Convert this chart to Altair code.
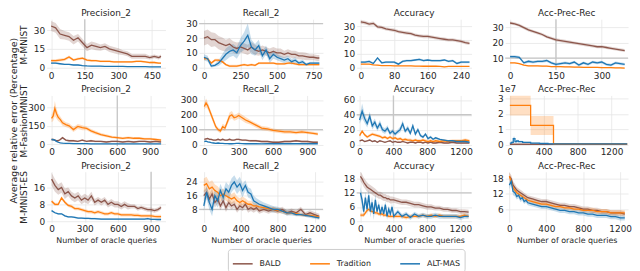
import altair as alt
import pandas as pd

FONT = "DejaVu Sans"
SERIES = ["BALD", "Tradition", "ALT-MAS"]
COLORS = ["#8c564b", "#ff7f0e", "#1f77b4"]
ROW_LABELS = ["M-MNIST", "M-FashionMNIST", "M-MNIST-ES"]
COL_TITLES = ["Precision_2", "Recall_2", "Accuracy", "Acc-Prec-Rec"]
Y_LABEL = "Average relative error (Percentage)"
X_LABEL = "Number of oracle queries"
SCALE_NOTE = "1e7"

# ---------------- Row 1: M-MNIST ----------------
P1_X = [0, 20, 40, 60, 80, 100, 120, 140, 160, 180, 200, 220, 240, 260, 280, 300, 320, 340, 360, 380, 400, 420, 440, 460, 480, 490]
P1_BALD = [33.5, 32, 27, 26, 25, 22, 24, 20, 16, 18, 17, 16, 17, 15, 14, 13, 12, 11, 9, 9, 9, 9, 8, 9, 8, 9]
P1_BALD_S = [4, 4, 4, 3.5, 3.5, 3.5, 3, 3, 3, 3, 3, 2.5, 2.5, 2.5, 2.5, 2.5, 2, 2, 2, 2, 2, 2, 1.5, 1.5, 1.5, 1.5]
P1_TRAD = [5.5, 5.5, 6, 6.5, 8.5, 6, 7, 7.5, 6, 5.5, 5.5, 5, 5, 5, 4.5, 4.5, 4.5, 4.5, 4.5, 5, 5, 4.5, 4, 4, 3.5, 3.5]
P1_TRAD_S = [1.2, 1.2, 1.2, 1.2, 1.2, 1, 1, 1, 1, 1, 0.8, 0.8, 0.8, 0.8, 0.8, 0.8, 0.8, 0.8, 0.8, 0.8, 0.8, 0.8, 0.8, 0.8, 0.8, 0.8]
P1_ALT = [3.5, 3.5, 3, 2.5, 2.5, 2, 2, 1.5, 1.2, 1, 1, 1, 0.9, 0.9, 0.8, 0.8, 0.8, 0.7, 0.7, 0.6, 0.6, 0.6, 0.5, 0.5, 0.5, 0.5]
P1_ALT_S = [0.8, 0.8, 0.7, 0.6, 0.6, 0.5, 0.5, 0.5, 0.4, 0.4, 0.4, 0.4, 0.3, 0.3, 0.3, 0.3, 0.3, 0.3, 0.3, 0.3, 0.3, 0.3, 0.3, 0.3, 0.3, 0.3]

P2_X = [0, 25, 50, 75, 100, 125, 150, 175, 200, 225, 250, 275, 300, 325, 350, 375, 400, 425, 450, 475, 500, 525, 550, 575, 600, 625, 650, 675, 700, 725, 750, 775, 790]
P2_BALD = [20, 21, 19, 19, 17, 16, 15, 16, 14, 13, 14, 13, 12, 14, 12, 11, 12, 11, 10, 11, 10, 10, 9, 10, 9, 9, 8, 8, 7.5, 7, 7, 6.5, 6.5]
P2_BALD_S = [5, 5, 5, 4.5, 4.5, 4.5, 4, 4, 4, 4, 3.5, 3.5, 3.5, 3.5, 3.5, 3, 3, 3, 3, 3, 3, 3, 2.5, 2.5, 2.5, 2.5, 2.5, 2.5, 2.5, 2, 2, 2, 2]
P2_TRAD = [6, 6, 3, 5, 5, 4, 2, 1, 1, 1, 1.5, 2, 1.5, 2, 1.5, 3, 3, 3, 3, 3, 2.5, 2.5, 2.5, 3, 3, 2.5, 2, 2, 2, 2, 2, 2, 2]
P2_TRAD_S = [1, 1, 1, 1, 1, 1, 0.8, 0.8, 0.8, 0.8, 0.8, 0.8, 0.8, 0.8, 0.8, 0.8, 0.8, 0.8, 0.8, 0.8, 0.8, 0.8, 0.8, 0.8, 0.8, 0.8, 0.8, 0.8, 0.8, 0.8, 0.8, 0.8, 0.8]
P2_ALT = [7, 6, 1, 1.5, 3, 6, 9, 11, 12, 10, 15, 18, 22, 14, 12, 15, 8, 12, 6, 9, 7, 6, 5, 6, 4, 5, 3, 4, 2, 3, 3, 3, 3]
P2_ALT_S = [2, 2, 1, 1, 2, 3, 4, 4, 4, 4, 5, 6, 8, 5, 4, 4, 3, 3, 3, 3, 2, 2, 2, 2, 2, 2, 1.5, 1.5, 1, 1, 1, 1, 1]

P3_X = [0, 10, 20, 30, 40, 50, 60, 70, 80, 90, 100, 110, 120, 130, 140, 150, 160, 170, 180, 190, 200, 210, 220, 230, 240, 250, 260]
P3_BALD = [33, 32.5, 31.5, 32, 29.5, 29, 28, 27.5, 27, 26, 25.5, 25, 24.5, 23.5, 23, 22.5, 22.5, 22, 21.5, 21, 20.5, 20, 20, 19.5, 19, 18, 17.5]
P3_BALD_S = [1.3, 1.3, 1.3, 1.3, 1.3, 1.2, 1.2, 1.2, 1.2, 1.2, 1.2, 1.2, 1.2, 1.2, 1.2, 1.2, 1.2, 1.2, 1.2, 1.2, 1.2, 1.2, 1.2, 1.2, 1.2, 1.2, 1.2]
P3_TRAD = [2.5, 2.5, 2.5, 2, 1.8, 1.5, 1.5, 1.5, 1.3, 1.3, 1.2, 1.2, 1.2, 1.1, 1.1, 1, 1, 1, 1, 0.9, 0.6, 0.9, 0.9, 0.9, 0.9, 0.9, 0.9]
P3_TRAD_S = [0.3, 0.3, 0.3, 0.3, 0.3, 0.3, 0.3, 0.3, 0.3, 0.3, 0.3, 0.3, 0.3, 0.3, 0.3, 0.3, 0.3, 0.3, 0.3, 0.3, 0.3, 0.3, 0.3, 0.3, 0.3, 0.3, 0.3]
P3_ALT = [4, 4, 4.5, 3, 7, 3.5, 4, 4, 4, 2.5, 4.5, 5, 5, 5.5, 6, 5, 5.5, 5, 5, 5, 5.5, 4.5, 5, 3, 4, 4, 4]
P3_ALT_S = [0.8, 0.8, 0.8, 0.8, 0.8, 0.8, 0.8, 0.8, 0.8, 0.8, 0.8, 0.8, 0.8, 0.8, 0.8, 0.8, 0.8, 0.8, 0.8, 0.8, 0.8, 0.8, 0.8, 0.8, 0.8, 0.8, 0.8]

P4_X = [0, 15, 30, 45, 60, 75, 90, 105, 120, 135, 150, 165, 180, 195, 210, 225, 240, 255, 270, 285, 300, 315, 330, 345, 360, 375]
P4_BALD = [33, 32.5, 31.5, 30, 28.5, 27.5, 26.5, 25.5, 24, 23, 22, 21.5, 21, 20.5, 20, 19.5, 19, 18.5, 18, 17.5, 17.5, 17, 16.5, 16, 15.5, 15]
P4_BALD_S = [1, 1, 1, 1, 1, 1, 1, 1, 1, 1, 1, 1, 1, 1, 1, 1, 1, 1, 1, 1, 1, 1, 1, 1, 1, 1]
P4_TRAD = [7, 7, 6.5, 5.5, 5, 5, 5, 4.8, 4.8, 4.5, 4.5, 4.5, 4.3, 4.3, 4.2, 4.2, 4, 4, 4, 4, 3.8, 3.8, 3.8, 3.7, 3.7, 3.5]
P4_TRAD_S = [0.4, 0.4, 0.4, 0.4, 0.4, 0.4, 0.4, 0.4, 0.4, 0.4, 0.4, 0.4, 0.4, 0.4, 0.4, 0.4, 0.4, 0.4, 0.4, 0.4, 0.4, 0.4, 0.4, 0.4, 0.4, 0.4]
P4_ALT = [11, 11, 10.5, 7, 8, 7.5, 8, 8, 8.5, 7, 6, 6.5, 7, 6.5, 7.5, 5.5, 7, 6, 7.5, 7, 7.5, 6, 5.5, 7, 6.5, 6]
P4_ALT_S = [0.9, 0.9, 0.9, 0.9, 0.9, 0.9, 0.9, 0.9, 0.9, 0.9, 0.9, 0.9, 0.9, 0.9, 0.9, 0.9, 0.9, 0.9, 0.9, 0.9, 0.9, 0.9, 0.9, 0.9, 0.9, 0.9]

# ---------------- Row 2: M-FashionMNIST ----------------
P5_X = [0, 15, 30, 45, 60, 80, 100, 130, 160, 200, 240, 280, 320, 360, 400, 450, 500, 550, 600, 650, 700, 750, 800, 850, 900, 950, 1000]
P5_BALD = [40, 40, 35, 30, 30, 40, 55, 35, 30, 30, 25, 35, 25, 30, 25, 25, 20, 25, 25, 20, 25, 20, 25, 25, 20, 25, 20]
P5_BALD_S = [8, 8, 8, 8, 8, 8, 8, 8, 8, 8, 8, 8, 8, 8, 8, 8, 8, 8, 8, 8, 8, 8, 8, 8, 8, 8, 8]
P5_TRAD = [210, 230, 290, 250, 220, 200, 175, 160, 150, 120, 145, 135, 130, 110, 95, 80, 70, 60, 55, 50, 55, 50, 50, 45, 45, 40, 35]
P5_TRAD_S = [30, 40, 60, 40, 30, 25, 25, 20, 20, 20, 20, 20, 15, 15, 15, 12, 12, 10, 10, 10, 10, 10, 10, 10, 10, 10, 10]
P5_ALT = [40, 38, 35, 25, 18, 12, 10, 8, 8, 7, 6, 6, 6, 5, 5, 5, 5, 5, 5, 5, 5, 5, 5, 5, 5, 5, 5]
P5_ALT_S = [3, 3, 3, 3, 3, 3, 3, 3, 3, 3, 3, 3, 3, 3, 3, 3, 3, 3, 3, 3, 3, 3, 3, 3, 3, 3, 3]

P6_X = [0, 15, 30, 45, 60, 80, 100, 120, 140, 160, 180, 200, 220, 240, 260, 280, 300, 330, 360, 400, 450, 500, 550, 600, 650, 700, 750, 800, 850, 900, 950, 990]
P6_BALD = [35, 38, 40, 35, 35, 30, 30, 35, 30, 35, 30, 30, 35, 30, 30, 35, 35, 30, 30, 25, 25, 20, 20, 15, 15, 20, 20, 25, 20, 20, 15, 15]
P6_BALD_S = [6, 6, 6, 6, 6, 6, 6, 6, 6, 6, 6, 6, 6, 6, 6, 6, 6, 6, 6, 6, 6, 6, 6, 6, 6, 6, 6, 6, 6, 6, 6, 6]
P6_TRAD = [255, 280, 260, 230, 200, 160, 120, 100, 90, 120, 110, 150, 190, 200, 180, 185, 195, 180, 165, 150, 130, 110, 105, 95, 90, 85, 85, 80, 85, 80, 75, 70]
P6_TRAD_S = [20, 30, 25, 20, 20, 20, 15, 15, 15, 20, 20, 20, 25, 25, 20, 20, 20, 20, 20, 15, 15, 15, 15, 12, 12, 12, 12, 12, 12, 10, 10, 10]
P6_ALT = [20, 22, 18, 15, 12, 10, 8, 10, 8, 7, 6, 6, 5, 5, 6, 7, 8, 6, 5, 5, 5, 4, 5, 5, 5, 5, 5, 6, 5, 5, 5, 5]
P6_ALT_S = [3, 3, 3, 3, 3, 3, 3, 3, 3, 3, 3, 3, 3, 3, 3, 3, 3, 3, 3, 3, 3, 3, 3, 3, 3, 3, 3, 3, 3, 3, 3, 3]

P7_X = [0, 30, 60, 90, 120, 150, 180, 210, 240, 270, 300, 330, 360, 390, 420, 450, 480, 510, 540, 570, 600, 630, 660, 690, 720, 750, 780, 810, 840, 870, 900, 950, 1000, 1050, 1100, 1150, 1200, 1250, 1300]
P7_BALD = [5, 6, 4, 5, 6, 4, 5, 3, 5, 4, 3, 4, 5, 3, 4, 3, 3, 4, 3, 2, 3, 3, 2, 3, 3, 2, 3, 2, 3, 2, 2, 3, 2, 2, 3, 2, 2, 2, 2]
P7_BALD_S = [1, 1, 1, 1, 1, 1, 1, 1, 1, 1, 1, 1, 1, 1, 1, 1, 1, 1, 1, 1, 1, 1, 1, 1, 1, 1, 1, 1, 1, 1, 1, 1, 1, 1, 1, 1, 1, 1, 1]
P7_TRAD = [12, 18, 13, 10, 12, 14, 13, 12, 11, 9, 10, 8, 10, 8, 9, 7, 8, 6, 7, 6, 6, 5, 6, 5, 5, 6, 5, 4, 5, 4, 5, 4, 5, 4, 5, 5, 5, 6, 5]
P7_TRAD_S = [2, 2, 2, 2, 2, 2, 2, 2, 2, 2, 2, 2, 2, 2, 2, 2, 2, 2, 2, 2, 2, 2, 2, 2, 2, 2, 2, 2, 2, 2, 2, 2, 2, 2, 2, 2, 2, 2, 2]
P7_ALT = [33, 45, 35, 28, 38, 25, 30, 22, 28, 20, 18, 22, 15, 18, 14, 17, 20, 28, 18, 22, 15, 25, 14, 20, 12, 10, 14, 8, 10, 7, 9, 7, 6, 5, 5, 4, 4, 4, 3]
P7_ALT_S = [5, 10, 6, 5, 6, 5, 5, 4, 5, 4, 4, 4, 3, 3, 3, 3, 4, 5, 3, 4, 3, 4, 3, 3, 2, 2, 2, 2, 2, 1.5, 1.5, 1, 1, 1, 1, 1, 1, 1, 1]

P8_X = [0, 20, 40, 60, 80, 100, 150, 200, 245, 300, 350, 400, 450, 515, 600, 700, 800, 900, 1000, 1100, 1200, 1300, 1385]
P8_BALD = [0.03, 0.03, 0.03, 0.03, 0.03, 0.03, 0.03, 0.03, 0.03, 0.03, 0.03, 0.03, 0.03, 0.03, 0.03, 0.03, 0.03, 0.03, 0.03, 0.03, 0.03, 0.03, 0.03]
P8_BALD_S = [0.01, 0.01, 0.01, 0.01, 0.01, 0.01, 0.01, 0.01, 0.01, 0.01, 0.01, 0.01, 0.01, 0.01, 0.01, 0.01, 0.01, 0.01, 0.01, 0.01, 0.01, 0.01, 0.01]
P8_TRAD = [2.55, 2.55, 2.55, 2.55, 2.55, 2.55, 2.55, 2.55, 1.25, 1.25, 1.25, 1.25, 1.25, 0.05, 0.05, 0.05, 0.05, 0.05, 0.05, 0.05, 0.05, 0.05, 0.05]
P8_TRAD_S = [0.65, 0.65, 0.65, 0.65, 0.65, 0.65, 0.65, 0.65, 0.62, 0.62, 0.62, 0.62, 0.62, 0.01, 0.01, 0.01, 0.01, 0.01, 0.01, 0.01, 0.01, 0.01, 0.01]
P8_ALT = [0.1, 0.15, 0.4, 0.2, 0.25, 0.2, 0.15, 0.15, 0.1, 0.1, 0.08, 0.08, 0.06, 0.05, 0.05, 0.05, 0.05, 0.05, 0.05, 0.05, 0.05, 0.05, 0.05]
P8_ALT_S = [0.05, 0.08, 0.12, 0.08, 0.08, 0.06, 0.05, 0.05, 0.04, 0.04, 0.03, 0.03, 0.02, 0.02, 0.02, 0.02, 0.02, 0.02, 0.02, 0.02, 0.02, 0.02, 0.02]

# ---------------- Row 3: M-MNIST-ES ----------------
P9_X = [0, 30, 60, 90, 120, 150, 180, 210, 240, 270, 300, 330, 360, 390, 420, 450, 480, 510, 540, 570, 600, 630, 660, 690, 720, 750, 780, 810, 840, 870, 900, 930, 960, 990]
P9_BALD = [20, 17, 15, 16, 13, 14, 12, 11, 12, 10, 11, 10, 12, 9, 10, 9, 10, 8, 9, 8, 8, 7, 8, 7, 7, 7, 6, 6.5, 6, 5.5, 5.5, 5, 5.5, 6.5]
P9_BALD_S = [3, 3, 2.5, 2.5, 2.5, 2, 2, 2, 2, 2, 2, 2, 2, 1.5, 1.5, 1.5, 1.5, 1.5, 1.5, 1.5, 1.5, 1.5, 1.5, 1.5, 1, 1, 1, 1, 1, 1, 1, 1, 1, 1]
P9_TRAD = [9.5, 8, 8, 11, 9, 7.5, 7, 6, 6, 5.5, 5, 4.5, 4.5, 4, 4.5, 4, 3.5, 3.5, 4, 3.5, 3.5, 3, 3, 3, 3, 2.8, 2.8, 2.5, 2.5, 2.5, 2.5, 2.3, 2.2, 2.2]
P9_TRAD_S = [0.8, 0.8, 0.8, 0.8, 0.8, 0.8, 0.8, 0.8, 0.8, 0.8, 0.8, 0.8, 0.8, 0.8, 0.8, 0.8, 0.8, 0.8, 0.8, 0.8, 0.8, 0.8, 0.8, 0.8, 0.8, 0.8, 0.8, 0.8, 0.8, 0.8, 0.8, 0.8, 0.8, 0.8]
P9_ALT = [5, 4, 3.5, 3.5, 2.5, 2, 2, 1.8, 1.5, 1.5, 1.3, 1.3, 1.2, 1.2, 1.1, 1, 1, 1, 1, 1, 1, 1, 1, 1, 1, 1, 1, 1, 1, 1.2, 0.9, 0.9, 0.8, 0.8]
P9_ALT_S = [0.4, 0.4, 0.4, 0.4, 0.4, 0.4, 0.4, 0.4, 0.4, 0.4, 0.4, 0.4, 0.4, 0.4, 0.4, 0.4, 0.4, 0.4, 0.4, 0.4, 0.4, 0.4, 0.4, 0.4, 0.4, 0.4, 0.4, 0.4, 0.4, 0.4, 0.4, 0.4, 0.4, 0.4]

P10_X = [0, 30, 60, 90, 120, 150, 180, 210, 240, 270, 300, 330, 360, 390, 420, 450, 480, 510, 540, 570, 600, 650, 700, 750, 800, 850, 900, 950, 1000, 1050, 1100, 1150, 1200, 1250]
P10_BALD = [16, 18, 14, 17, 12, 14, 10, 13, 9, 12, 10, 11, 8, 10, 9, 11, 8, 9, 8, 9, 7, 8, 7, 8, 7, 8, 6, 7, 6, 8, 5, 6, 5, 4]
P10_BALD_S = [3, 3, 3, 3, 3, 2.5, 2.5, 2.5, 2.5, 2.5, 2, 2, 2, 2, 2, 2, 2, 2, 2, 2, 1.5, 1.5, 1.5, 1.5, 1.5, 1.5, 1.5, 1.5, 1.5, 1.5, 1.5, 1.5, 1.5, 1.5]
P10_TRAD = [22, 23, 20, 21, 19, 18, 16, 17, 16, 15, 14, 15, 13, 12, 13, 12, 11, 11, 10, 10, 9.5, 9, 8.5, 8, 7.5, 7, 6, 6, 5.5, 5, 4.5, 4.5, 4, 3.5]
P10_TRAD_S = [4, 4, 4, 4, 3.5, 3.5, 3.5, 3, 3, 3, 3, 3, 2.5, 2.5, 2.5, 2.5, 2, 2, 2, 2, 2, 1.5, 1.5, 1.5, 1.5, 1.5, 1.2, 1.2, 1.2, 1, 1, 1, 1, 1]
P10_ALT = [10, 18, 12, 8, 16, 13, 19, 15, 20, 18, 22, 24, 21, 23, 19, 22, 18, 17, 13, 12, 11, 10, 9, 8, 8, 7, 6, 6, 5, 5, 4.5, 4, 3.5, 3]
P10_ALT_S = [3, 4, 4, 4, 4, 4, 4, 4, 4, 4, 4, 4, 4, 4, 4, 3, 3, 3, 3, 2.5, 2.5, 2, 2, 2, 1.5, 1.5, 1.5, 1.5, 1, 1, 1, 1, 1, 1]

P11_X = [0, 20, 40, 60, 80, 100, 120, 140, 160, 180, 200, 220, 240, 260, 280, 300, 320, 340, 360, 380, 400, 450, 500, 550, 600, 650, 700, 750, 800, 850, 900, 950, 1000, 1050, 1100, 1150, 1200, 1250, 1300]
P11_BALD = [19, 18, 16.5, 15.5, 14.5, 14, 13.5, 13, 12.5, 12, 11.5, 11, 11, 10.5, 10, 10, 9.5, 9.5, 9, 9, 9, 8.5, 8, 8, 7.5, 7, 7, 6.5, 6, 6, 5.5, 5.5, 5, 5, 4.5, 4.5, 4, 4, 3.8]
P11_BALD_S = [2, 2, 2, 2, 2, 1.8, 1.8, 1.8, 1.8, 1.8, 1.5, 1.5, 1.5, 1.5, 1.5, 1.5, 1.5, 1.5, 1.5, 1.5, 1.2, 1.2, 1.2, 1.2, 1.2, 1.2, 1.2, 1.2, 1.2, 1.2, 1, 1, 1, 1, 1, 1, 1, 1, 1]
P11_TRAD = [2.5, 2.5, 2.5, 3.5, 4.5, 5, 4.5, 4, 4, 3.5, 3.5, 3, 3, 3, 2.5, 2.5, 2.5, 2, 2, 2, 2, 2, 2, 1.5, 2, 2, 2, 2.5, 2, 2.5, 2, 2.5, 2, 2, 2, 2, 2, 2.5, 2]
P11_TRAD_S = [0.8, 0.8, 0.8, 0.8, 0.8, 0.8, 0.8, 0.8, 0.8, 0.8, 0.8, 0.8, 0.8, 0.8, 0.8, 0.8, 0.8, 0.8, 0.8, 0.8, 0.8, 0.8, 0.8, 0.8, 0.8, 0.8, 0.8, 0.8, 0.8, 0.8, 0.8, 0.8, 0.8, 0.8, 0.8, 0.8, 0.8, 0.8, 0.8]
P11_ALT = [12, 9, 4, 10, 5, 11, 4, 8, 3, 9, 4, 7, 3, 6, 3, 7, 2, 5, 3, 6, 2, 4, 2, 3, 1.5, 3, 2, 2.5, 2, 2, 2.5, 2, 2, 2, 2, 2, 1.5, 2, 2]
P11_ALT_S = [2.5, 2.5, 2.5, 2.5, 2.5, 2.5, 2.5, 2.5, 2.5, 2.5, 1.5, 1.5, 1.5, 1.5, 1.5, 1.5, 1.5, 1.5, 1.5, 1.5, 1, 1, 1, 1, 1, 1, 1, 1, 1, 1, 1, 1, 1, 1, 1, 1, 1, 1, 1]

P12_X = [0, 20, 40, 60, 80, 100, 120, 140, 160, 180, 200, 250, 300, 350, 400, 450, 500, 550, 600, 650, 700, 750, 800, 850, 900, 950, 1000, 1050, 1100, 1150, 1200, 1250]
P12_BALD = [19, 18, 15.5, 14.5, 13.5, 13, 12.5, 12, 11.5, 11, 10.5, 10, 9.5, 9, 9, 8.5, 8, 7.5, 7.5, 7, 7, 6.5, 6, 6, 5.5, 5.5, 5, 5, 4.5, 4.5, 4.5, 4]
P12_BALD_S = [1.5, 1.5, 1.5, 1.5, 1.2, 1.2, 1.2, 1.2, 1, 1, 1, 1, 1, 1, 1, 1, 1, 1, 1, 1, 1, 1, 1, 1, 1, 1, 1, 1, 1, 1, 1, 1]
P12_TRAD = [19, 17, 14.5, 13.5, 12.5, 12, 11.5, 11, 10.5, 10, 9.5, 9, 8.5, 8, 8, 7.5, 7, 7, 6.5, 6.5, 6, 6, 5.5, 5.5, 5.5, 5, 5, 5, 4.5, 4.5, 4.5, 4.5]
P12_TRAD_S = [1.5, 1.5, 1.5, 1.5, 1.2, 1.2, 1.2, 1.2, 1, 1, 1, 1, 1, 1, 1, 1, 1, 1, 1, 1, 1, 1, 1, 1, 1, 1, 1, 1, 1, 1, 1, 1]
P12_ALT = [15.5, 17, 13, 12.5, 11, 11.5, 10, 10.5, 9, 9.5, 8.5, 8, 7.5, 7, 7, 6.5, 6, 5.5, 5.5, 5, 5, 4.5, 4.5, 4, 4, 3.5, 3.5, 3.5, 3, 3, 2.5, 2.5]
P12_ALT_S = [1.5, 1.5, 1.5, 1.5, 1.2, 1.2, 1.2, 1.2, 1, 1, 1, 1, 1, 1, 1, 1, 1, 1, 1, 1, 1, 1, 1, 1, 1, 1, 1, 1, 1, 1, 1, 1]

# ---------------- axis ticks ----------------
P1_XT, P1_YT = [0, 150, 300, 450], [0, 15, 30]
P2_XT, P2_YT = [0, 250, 500, 750], [0, 10, 20, 30]
P3_XT, P3_YT = [0, 80, 160, 240], [0, 10, 20, 30]
P4_XT, P4_YT = [0, 150, 300], [10, 20, 30]
P5_XT, P5_YT = [0, 300, 600, 900], [0, 150, 300]
P6_XT, P6_YT = [0, 300, 600, 900], [0, 100, 200, 300]
P7_XT, P7_YT = [0, 400, 800, 1200], [0, 20, 40, 60]
P8_XT, P8_YT = [0, 400, 800, 1200], [0, 1, 2, 3]
P9_XT, P9_YT = [0, 300, 600, 900], [0, 8, 16]
P10_XT, P10_YT = [0, 400, 800, 1200], [8, 16, 24]
P11_XT, P11_YT = [0, 400, 800, 1200], [0, 6, 12, 18]
P12_XT, P12_YT = [0, 400, 800, 1200], [6, 12, 18]

# gridlines that show darker in the original
P1_VL, P2_HL, P4_VL, P4_HL = [150], [30], [150], [10]
P5_VL, P6_HL, P7_VL, P7_HL = [600], [100], [400], [40]
P9_VL, P10_HL, P11_HL = [900], [8], [12]

COL_W = [120, 125, 116, 124]
ROW_H = 51
SCALE_COLOR = alt.Scale(domain=SERIES, range=COLORS)


def make_df(x, bald, bald_s, trad, trad_s, altm, altm_s):
    recs = []
    for name, ys, ss in ((SERIES[0], bald, bald_s), (SERIES[1], trad, trad_s), (SERIES[2], altm, altm_s)):
        assert len(ys) == len(x) and len(ss) == len(x), (name, len(x), len(ys), len(ss))
        for xi, yi, si in zip(x, ys, ss):
            recs.append({"x": xi, "y": yi, "lo": yi - si, "hi": yi + si, "series": name})
    return pd.DataFrame(recs)


def label_layer(text, **kw):
    enc = {k: v for k, v in kw.items() if k in ("x", "y")}
    props = {k: v for k, v in kw.items() if k not in ("x", "y")}
    return alt.Chart(pd.DataFrame({"t": [text]})).mark_text(
        font=FONT, color="#262626", **props
    ).encode(text="t:N", **enc)


def panel(r, c, df, xdom, xticks, ydom, yticks, vl=(), hl=(), interp="linear"):
    w, h = COL_W[c], ROW_H
    xs = alt.Scale(domain=xdom, nice=False, zero=False)
    ys = alt.Scale(domain=ydom, nice=False, zero=False)
    xargs = dict(values=xticks, format="d", labelFlush=False, labelOverlap=False)
    if r == 2:
        xargs.update(title=X_LABEL, titleFontSize=8, titlePadding=3)
    else:
        xargs.update(title=None)
    yargs = dict(values=yticks, format="d", labelFlush=False, labelOverlap=False)
    if c == 0:
        yargs.update(title=ROW_LABELS[r], titleX=-23, titleY=h / 2, titleBaseline="middle",
                     titleAngle=270, titleAlign="center", titleFontSize=9)
    else:
        yargs.update(title=None)
    xaxis = alt.Axis(**xargs)
    yaxis = alt.Axis(**yargs)
    layers = []
    if vl:
        layers.append(alt.Chart(pd.DataFrame({"v": list(vl)})).mark_rule(color="#c6c6c6", strokeWidth=1.3)
                      .encode(x=alt.X("v:Q", scale=xs, axis=xaxis)))
    if hl:
        layers.append(alt.Chart(pd.DataFrame({"v": list(hl)})).mark_rule(color="#c6c6c6", strokeWidth=1.3)
                      .encode(y=alt.Y("v:Q", scale=ys, axis=yaxis)))
    base = alt.Chart(df)
    # one band per series, coloured directly (keeps the bands out of the legend)
    for name, col in zip(SERIES, COLORS):
        layers.append(base.transform_filter(alt.FieldEqualPredicate(field="series", equal=name))
                      .mark_area(opacity=0.25, color=col, interpolate=interp, clip=True).encode(
            x=alt.X("x:Q", scale=xs, axis=xaxis),
            y=alt.Y("lo:Q", scale=ys, axis=yaxis),
            y2="hi:Q",
        ))
    if r == 2 and c == 1:
        legend = alt.Legend(
            title=None, orient="none", legendX=29, legendY=78, direction="horizontal",
            symbolType="stroke", symbolStrokeWidth=1.5, symbolSize=400,
            labelFontSize=8, labelFont=FONT, labelColor="#262626", labelOffset=6,
            columnPadding=26, padding=4, strokeColor="#cccccc", cornerRadius=3, fillColor="white",
        )
        color = alt.Color("series:N", scale=SCALE_COLOR, legend=legend)
    else:
        color = alt.Color("series:N", scale=SCALE_COLOR, legend=None)
    layers.append(base.mark_line(strokeWidth=1.3, interpolate=interp, clip=True).encode(
        x=alt.X("x:Q", scale=xs, axis=xaxis),
        y=alt.Y("y:Q", scale=ys, axis=yaxis),
        color=color,
    ))
    # panel title
    layers.append(label_layer(COL_TITLES[c], fontSize=9, align="center", baseline="bottom",
                              x=alt.value(w / 2), y=alt.value(-1)))
    if r == 1 and c == 0:
        layers.append(label_layer(Y_LABEL, angle=270, fontSize=9.5, align="center", baseline="middle",
                                  x=alt.value(-33), y=alt.value(h / 2)))
    if r == 1 and c == 3:
        layers.append(label_layer(SCALE_NOTE, fontSize=9, align="left", baseline="bottom",
                                  x=alt.value(-6), y=alt.value(-1)))
    return alt.layer(*layers).properties(width=w, height=h)


panels = [
    panel(0, 0, make_df(P1_X, P1_BALD, P1_BALD_S, P1_TRAD, P1_TRAD_S, P1_ALT, P1_ALT_S), [-20, 510], P1_XT, [-1.8, 39], P1_YT, vl=P1_VL),
    panel(0, 1, make_df(P2_X, P2_BALD, P2_BALD_S, P2_TRAD, P2_TRAD_S, P2_ALT, P2_ALT_S), [-33, 815], P2_XT, [-1.5, 33], P2_YT, hl=P2_HL),
    panel(0, 2, make_df(P3_X, P3_BALD, P3_BALD_S, P3_TRAD, P3_TRAD_S, P3_ALT, P3_ALT_S), [-10, 265], P3_XT, [-1.5, 35], P3_YT),
    panel(0, 3, make_df(P4_X, P4_BALD, P4_BALD_S, P4_TRAD, P4_TRAD_S, P4_ALT, P4_ALT_S), [-16, 386], P4_XT, [2.5, 35.5], P4_YT, vl=P4_VL, hl=P4_HL),
    panel(1, 0, make_df(P5_X, P5_BALD, P5_BALD_S, P5_TRAD, P5_TRAD_S, P5_ALT, P5_ALT_S), [-45, 1040], P5_XT, [-12, 395], P5_YT, vl=P5_VL),
    panel(1, 1, make_df(P6_X, P6_BALD, P6_BALD_S, P6_TRAD, P6_TRAD_S, P6_ALT, P6_ALT_S), [-45, 1035], P6_XT, [-10, 330], P6_YT, hl=P6_HL),
    panel(1, 2, make_df(P7_X, P7_BALD, P7_BALD_S, P7_TRAD, P7_TRAD_S, P7_ALT, P7_ALT_S), [-35, 1325], P7_XT, [-2, 66], P7_YT, vl=P7_VL, hl=P7_HL),
    panel(1, 3, make_df(P8_X, P8_BALD, P8_BALD_S, P8_TRAD, P8_TRAD_S, P8_ALT, P8_ALT_S), [-55, 1395], P8_XT, [-0.08, 3.2], P8_YT, interp="step-after"),
    panel(2, 0, make_df(P9_X, P9_BALD, P9_BALD_S, P9_TRAD, P9_TRAD_S, P9_ALT, P9_ALT_S), [-45, 1030], P9_XT, [-0.5, 23.5], P9_YT, vl=P9_VL),
    panel(2, 1, make_df(P10_X, P10_BALD, P10_BALD_S, P10_TRAD, P10_TRAD_S, P10_ALT, P10_ALT_S), [-50, 1290], P10_XT, [0.5, 30], P10_YT, hl=P10_HL),
    panel(2, 2, make_df(P11_X, P11_BALD, P11_BALD_S, P11_TRAD, P11_TRAD_S, P11_ALT, P11_ALT_S), [-45, 1335], P11_XT, [-0.5, 21], P11_YT, hl=P11_HL),
    panel(2, 3, make_df(P12_X, P12_BALD, P12_BALD_S, P12_TRAD, P12_TRAD_S, P12_ALT, P12_ALT_S), [-45, 1285], P12_XT, [0.8, 20.8], P12_YT),
]

chart = alt.concat(
    *panels, columns=4, spacing={"row": 26, "column": 34}, bounds="flush", align="each"
).resolve_scale(
    color="independent"
).resolve_legend(
    color="independent"
).properties(
    padding={"left": 0, "top": 0, "right": 0, "bottom": 2}, background="white"
).configure_view(
    stroke=None
).configure_axis(
    domain=False, ticks=False, grid=True, gridColor="#e6e6e6", gridWidth=0.8,
    labelFont=FONT, labelFontSize=9, labelColor="#262626", labelPadding=2,
    titleFont=FONT, titleFontWeight="normal", titleColor="#262626",
)

chart.save("out.html", embed_options={"renderer": "svg", "actions": False})
